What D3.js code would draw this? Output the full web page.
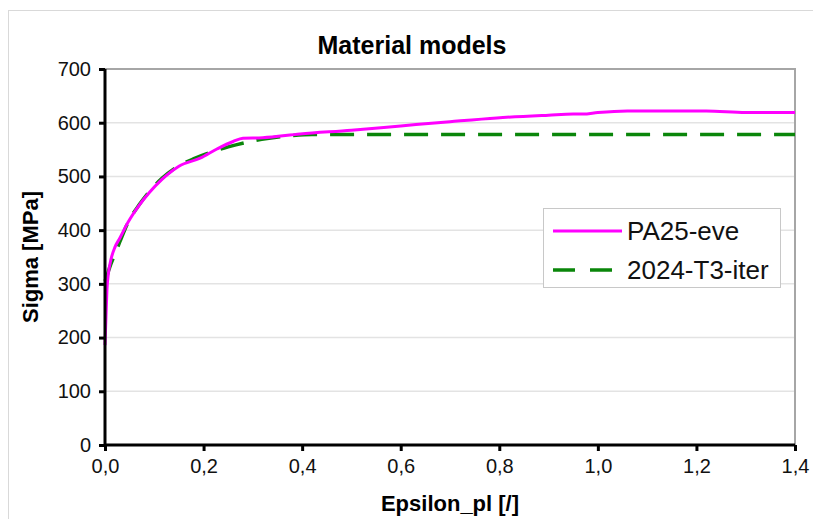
<!DOCTYPE html>
<html>
<head>
<meta charset="utf-8">
<script src="https://cdn.jsdelivr.net/npm/d3@7"></script>
<style>
  body { margin: 0; background: #fff; }
  svg text { font-family: "Liberation Sans", Arial, sans-serif; }
</style>
</head>
<body>
<div id="chart"></div>
<script>
"use strict"

// PA25-eve (measured curve)
var paEps   = [0, 0.002, 0.004, 0.007, 0.012, 0.02, 0.03, 0.047, 0.07, 0.09, 0.115, 0.126, 0.15, 0.193, 0.227, 0.26, 0.28, 0.32, 0.396, 0.5, 0.6, 0.7, 0.795, 0.9, 0.95, 0.97, 1.0, 1.06, 1.22, 1.3, 1.4];
var paSigma = [186, 240, 290, 320, 345, 368, 385, 415, 447, 470, 494, 503, 519, 534, 551, 565, 571, 572, 579, 586, 594, 602, 609, 614, 616, 616, 619, 622, 622, 619, 619];

// 2024-T3-iter (fitted model)
var itEps   = [0, 0.005, 0.01, 0.02, 0.03, 0.047, 0.07, 0.09, 0.115, 0.15, 0.183, 0.25, 0.318, 0.38, 0.42, 1.4];
var itSigma = [305, 318, 332, 355, 378, 415, 448, 472, 496, 520, 534, 555, 569, 576, 578, 578];

var xTicks = [0, 0.2, 0.4, 0.6, 0.8, 1.0, 1.2, 1.4];
var yTicks = [0, 100, 200, 300, 400, 500, 600, 700];
var seriesNames = ["PA25-eve", "2024-T3-iter"];

var width = 813, height = 519;
var margin = {left: 105, right: 18, top: 69, bottom: 74};

var svg = d3.select("#chart").append("svg")
    .attr("width", width).attr("height", height);

// outer frame
svg.append("rect")
    .attr("x", 8.5).attr("y", 10.5)
    .attr("width", 830).attr("height", 530)
    .style("fill", "none").style("stroke", "#d9d9d9").style("stroke-width", 1);

var x = d3.scaleLinear().domain([0, 1.4]).range([margin.left, width - margin.right]);
var y = d3.scaleLinear().domain([0, 700]).range([height - margin.bottom, margin.top]);

// grid lines
svg.append("g").selectAll("line").data(yTicks.slice(1, -1)).enter().append("line")
    .attr("x1", x(0)).attr("x2", x(1.4))
    .attr("y1", function (d) { return y(d); }).attr("y2", function (d) { return y(d); })
    .style("stroke", "#e3e3e3").style("stroke-width", 1.5);

// top and right border of plot area
svg.append("path")
    .attr("d", "M" + x(0) + "," + y(700) + "H" + x(1.4) + "V" + y(0))
    .style("fill", "none").style("stroke", "#a6a6a6").style("stroke-width", 2);

var line = d3.line()
    .x(function (d) { return x(d[0]); })
    .y(function (d) { return y(d[1]); })
    .curve(d3.curveMonotoneX);

var paData = paEps.map(function (e, i) { return [e, paSigma[i]]; });
var itData = itEps.map(function (e, i) { return [e, itSigma[i]]; });

svg.append("path").datum(itData)
    .attr("d", line)
    .style("fill", "none").style("stroke", "#0a860a").style("stroke-width", 3.5)
    .style("stroke-dasharray", "24,13");

svg.append("path").datum(paData)
    .attr("d", line)
    .style("fill", "none").style("stroke", "#ff00ff").style("stroke-width", 3);

// axes
var xAxis = d3.axisBottom(x).tickValues(xTicks).tickSize(6).tickPadding(8)
    .tickFormat(function (d) { return d3.format(".1f")(d).replace(".", ","); });
var yAxis = d3.axisLeft(y).tickValues(yTicks).tickSize(6).tickPadding(8);

var gx = svg.append("g").attr("transform", "translate(0," + y(0) + ")").call(xAxis);
var gy = svg.append("g").attr("transform", "translate(" + x(0) + ",0)").call(yAxis);

[gx, gy].forEach(function (g) {
    g.select(".domain").style("stroke", "#000").style("stroke-width", 3);
    g.selectAll(".tick line").style("stroke", "#000").style("stroke-width", 3);
    g.selectAll(".tick text").style("font-size", "20px").style("fill", "#111")
        .style("font-family", "'Liberation Sans', Arial, sans-serif");
});
gx.select(".domain").attr("d", "M" + x(0) + ",0H" + x(1.4));
gy.select(".domain").attr("d", "M0," + y(0) + "V" + y(700));

// title and axis labels
svg.append("text")
    .attr("x", 412).attr("y", 54)
    .attr("text-anchor", "middle")
    .style("font-size", "25px").style("font-weight", "bold")
    .text("Material models");

svg.append("text")
    .attr("x", x(0.7)).attr("y", 511)
    .attr("text-anchor", "middle")
    .style("font-size", "22px").style("font-weight", "bold")
    .text("Epsilon_pl [/]");

svg.append("text")
    .attr("transform", "translate(38," + y(350) + ") rotate(-90)")
    .attr("text-anchor", "middle")
    .style("font-size", "22px").style("font-weight", "bold")
    .text("Sigma [MPa]");

// legend
var legend = svg.append("g").attr("transform", "translate(543,208)");
legend.append("rect")
    .attr("x", 0.5).attr("y", 0.5).attr("width", 237).attr("height", 79)
    .style("fill", "#fff").style("stroke", "#c8c8c8").style("stroke-width", 1);

var styles = [
    {color: "#ff00ff", dash: null, width: 3},
    {color: "#0a860a", dash: "22,15", width: 3.5}
];
seriesNames.forEach(function (name, i) {
    var ly = 23 + i * 39;
    legend.append("line")
        .attr("x1", 10).attr("x2", 79).attr("y1", ly).attr("y2", ly)
        .style("stroke", styles[i].color).style("stroke-width", styles[i].width)
        .style("stroke-dasharray", styles[i].dash);
    legend.append("text")
        .attr("x", 84).attr("y", ly + 9)
        .style("font-size", "26px").style("fill", "#111")
        .text(name);
});
</script>
</body>
</html>
